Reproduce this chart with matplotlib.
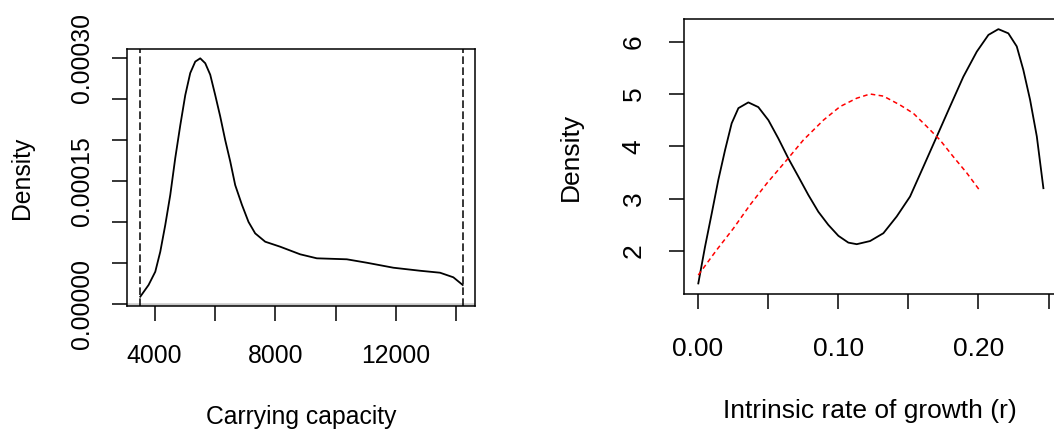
import matplotlib
matplotlib.use("Agg")
import matplotlib.pyplot as plt

plt.rcParams['font.family'] = ['Liberation Sans', 'DejaVu Sans']

# posterior density of carrying capacity K
k_x = [3526, 3801, 4023, 4189, 4354, 4520, 4685, 4851, 5017, 5182, 5348, 5513,
       5679, 5844, 6010, 6175, 6341, 6507, 6672, 6894, 7113, 7334, 7666, 8162,
       8825, 9377, 10370, 11033, 11914, 12798, 13460, 13901, 14212]
k_y = [0.86e-5, 2.29e-5, 3.91e-5, 6.36e-5, 9.62e-5, 13.3e-5, 17.8e-5, 21.8e-5,
       25.5e-5, 28.2e-5, 29.6e-5, 30.0e-5, 29.4e-5, 28.0e-5, 25.5e-5, 22.9e-5,
       20.0e-5, 17.4e-5, 14.5e-5, 12.1e-5, 10.0e-5, 8.6e-5, 7.58e-5, 6.97e-5,
       6.04e-5, 5.55e-5, 5.43e-5, 5.01e-5, 4.4e-5, 4.03e-5, 3.79e-5, 3.23e-5,
       2.29e-5]
k_limits = [3526, 14205]
k_ticks = [4000, 6000, 8000, 10000, 12000, 14000]
k_ticklabels = ['4000', '', '8000', '', '12000', '']
k_dens_ticks = [0, 5e-5, 10e-5, 15e-5, 20e-5, 25e-5, 30e-5]
k_dens_labels = ['0.00000', '', '', '0.00015', '', '', '0.00030']

# posterior (black) and prior (red) densities of r
r_x = [0.0002, 0.005, 0.0098, 0.0145, 0.0193, 0.024, 0.0288, 0.0359, 0.043,
       0.0502, 0.0573, 0.0644, 0.0716, 0.0787, 0.0858, 0.0929, 0.1001, 0.1072,
       0.1132, 0.1227, 0.1322, 0.1417, 0.1512, 0.1607, 0.1703, 0.1797, 0.1892,
       0.1988, 0.2071, 0.2142, 0.2213, 0.2273, 0.232, 0.2368, 0.2416, 0.2463]
r_post = [1.38, 2.08, 2.72, 3.36, 3.93, 4.44, 4.73, 4.84, 4.75, 4.50, 4.15,
          3.77, 3.42, 3.07, 2.75, 2.50, 2.29, 2.16, 2.13, 2.19, 2.34, 2.66,
          3.04, 3.61, 4.19, 4.76, 5.33, 5.81, 6.13, 6.24, 6.16, 5.91, 5.46,
          4.89, 4.19, 3.20]
r_prior_x = [0.0002, 0.0133, 0.0252, 0.0371, 0.049, 0.0633, 0.0751, 0.0894,
             0.1013, 0.1132, 0.1227, 0.1322, 0.1441, 0.1536, 0.1631, 0.1726,
             0.1821, 0.1917, 0.2011]
r_prior = [1.54, 2.02, 2.43, 2.88, 3.29, 3.74, 4.12, 4.50, 4.76, 4.92, 5.00,
           4.96, 4.79, 4.63, 4.38, 4.12, 3.80, 3.49, 3.15]
r_ticks = [0.0, 0.05, 0.10, 0.15, 0.20, 0.25]
r_ticklabels = ['0.00', '', '0.10', '', '0.20', '']
r_dens_ticks = [2, 3, 4, 5, 6]

fig = plt.figure(figsize=(10.54, 4.33), dpi=100)

def r_style(ax, fs, xpad, ypad):
    for s in ax.spines.values():
        s.set_linewidth(1.1)
    ax.tick_params(direction='out', length=11, width=1.1, labelsize=fs)
    ax.tick_params(axis='x', pad=xpad)
    ax.tick_params(axis='y', pad=ypad)

# left: carrying capacity
ax1 = fig.add_axes([127/1054, 1 - 306/433, 348/1054, 257/433])
ax1.axhline(0, color='#c8c8c8', lw=1.8)
ax1.plot(k_x, k_y, color='black', lw=1.3)
for v in k_limits:
    ax1.axvline(v, color='black', lw=1.1, ls=(0, (5, 2.2)))
ax1.set_xlim(3086, 14619)
ax1.set_ylim(-0.0000028, 0.0003114)
ax1.set_xticks(k_ticks)
ax1.set_xticklabels(k_ticklabels)
ax1.set_yticks(k_dens_ticks)
ax1.set_yticklabels(k_dens_labels, rotation=90, va='center')
r_style(ax1, 17.8, 16.5, 13)
ax1.set_xlabel('Carrying capacity', fontsize=17.8, va='center')
ax1.set_ylabel('Density', fontsize=17.8, va='center')
ax1.xaxis.set_label_coords(0.5, -0.43)
ax1.yaxis.set_label_coords(-0.3026, 0.5)

# right: intrinsic rate of growth
ax2 = fig.add_axes([684/1054, 1 - 294/433, 373/1054, 274.7/433])
ax2.plot(r_x, r_post, color='black', lw=1.3)
ax2.plot(r_prior_x, r_prior, color='#ff0000', lw=1.1, ls=(0, (3, 2.2)))
ax2.set_xlim(-0.00999, 0.256)
ax2.set_ylim(1.178, 6.428)
ax2.set_xticks(r_ticks)
ax2.set_xticklabels(r_ticklabels)
ax2.set_yticks(r_dens_ticks)
ax2.set_yticklabels([str(v) for v in r_dens_ticks], rotation=90, va='center')
r_style(ax2, 19, 20, 16.5)
ax2.set_xlabel('Intrinsic rate of growth (r)', fontsize=19, va='center')
ax2.set_ylabel('Density', fontsize=19, va='center')
ax2.xaxis.set_label_coords(0.4987, -0.4248)
ax2.yaxis.set_label_coords(-0.3038, 0.5)

fig.savefig('out.png', dpi=100)
